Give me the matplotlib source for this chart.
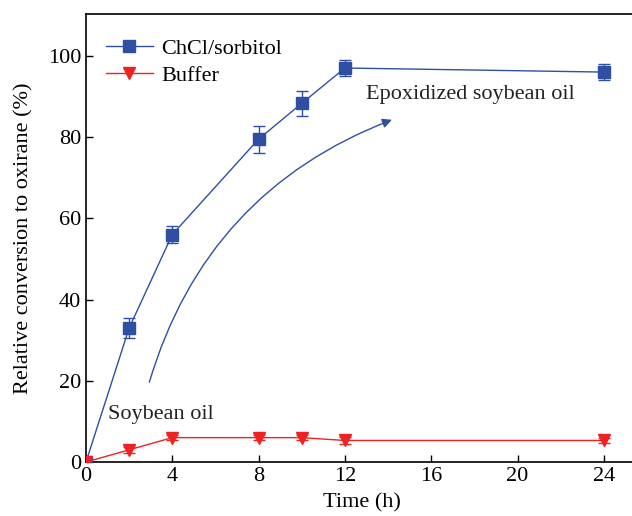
import matplotlib
matplotlib.use('Agg')
import matplotlib.pyplot as plt

# data
time_h = [0, 2, 4, 8, 10, 12, 24]
chcl_sorbitol = [0, 33, 56, 79.5, 88.3, 97, 96]
chcl_err = [0, 2.4, 2, 3.3, 3, 2, 2]
buffer_vals = [0, 3, 6, 6, 6, 5.3, 5.3]
buffer_err = [0, 0.8, 0.6, 0.6, 0.6, 0.8, 0.6]
x_ticks = [0, 4, 8, 12, 16, 20, 24]
y_ticks = [0, 20, 40, 60, 80, 100]

plt.rcParams['font.family'] = ['Liberation Serif', 'DejaVu Serif']

blue = '#2f4fa3'
red = '#ee2222'
fs = 16

fig = plt.figure(figsize=(6.32, 5.16), dpi=100)
ax = fig.add_axes([86 / 632, 54 / 516, 1 - 86 / 632 + 0.01, (462 - 14) / 516])

# error bars first, then lines with markers (keeps legend clean)
ax.errorbar(time_h, chcl_sorbitol, yerr=chcl_err, fmt='none', ecolor=blue,
            capsize=4, elinewidth=1.0, zorder=2)
ax.errorbar(time_h, buffer_vals, yerr=buffer_err, fmt='none', ecolor=red,
            capsize=4, elinewidth=1.0, zorder=2)
ax.plot(time_h, chcl_sorbitol, color=blue, lw=1.0, marker='s', markersize=8,
        label='ChCl/sorbitol', zorder=3)
ax.plot(time_h, buffer_vals, color=red, lw=1.0, marker='v', markersize=9,
        label='Buffer', zorder=3)

# curved arrow from soybean oil to epoxidized product
ax.annotate('', xy=(14.3, 84.5), xytext=(2.9, 19),
            arrowprops=dict(arrowstyle='-|>', color=blue, lw=1.0,
                            mutation_scale=14,
                            connectionstyle='arc3,rad=-0.25'))
ax.text(13.0, 90.5, 'Epoxidized soybean oil', fontsize=fs,
        ha='left', va='center', color='#222222')
ax.text(1.0, 11.7, 'Soybean oil', fontsize=fs,
        ha='left', va='center', color='#222222')

ax.set_xlim(0, 25.6)
ax.set_ylim(0, 110.3)
ax.set_xticks(x_ticks)
ax.set_yticks(y_ticks)
ax.tick_params(direction='in', length=5, labelsize=fs, width=1)
ax.spines['right'].set_visible(False)
for s in ['left', 'bottom', 'top']:
    ax.spines[s].set_linewidth(1.2)

ax.set_xlabel('Time (h)', fontsize=fs, labelpad=5)
ax.set_ylabel('Relative conversion to oxirane (%)', fontsize=fs, labelpad=10)

leg = ax.legend(loc='upper left', bbox_to_anchor=(0.0, 0.99), frameon=False,
                fontsize=fs, handlelength=2.1, handletextpad=0.4,
                labelspacing=0.3)

fig.savefig('out.png', dpi=100)
